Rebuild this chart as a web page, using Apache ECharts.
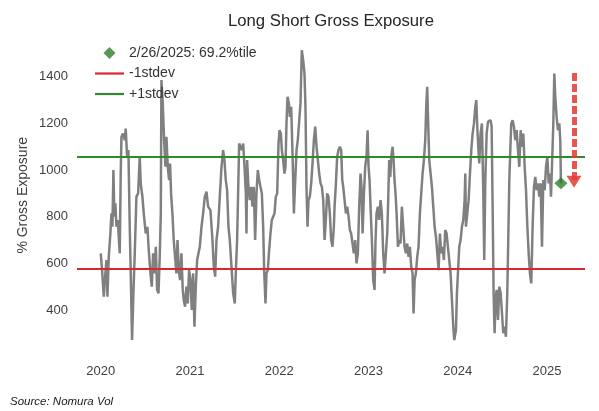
<!DOCTYPE html>
<html><head><meta charset="utf-8">
<script src="https://cdn.jsdelivr.net/npm/echarts@6/dist/echarts.min.js"></script>
<style>html,body{margin:0;padding:0;background:#fff}#c{width:599px;height:411px}</style>
</head><body><div id="c"></div>
<script>
const titleText = 'Long Short Gross Exposure';
const sourceText = 'Source: Nomura Vol';
const yAxisName = '% Gross Exposure';
const yearTicks = [2020, 2021, 2022, 2023, 2024, 2025];
const valueTicks = [400, 600, 800, 1000, 1200, 1400];
const xRange = [2019.734, 2025.426];
const yRange = [209, 1575];

const years = [
2020.000,2020.015,2020.034,2020.052,2020.064,2020.075,2020.090,2020.108,2020.120,2020.131,
2020.142,2020.153,2020.164,2020.176,2020.191,2020.206,2020.213,2020.224,2020.232,2020.250,
2020.269,2020.280,2020.295,2020.310,2020.325,2020.336,2020.351,2020.366,2020.381,2020.400,
2020.419,2020.437,2020.448,2020.467,2020.482,2020.504,2020.523,2020.538,2020.557,2020.572,
2020.587,2020.602,2020.617,2020.632,2020.647,2020.661,2020.673,2020.680,2020.695,2020.710,
2020.725,2020.736,2020.751,2020.766,2020.777,2020.788,2020.803,2020.818,2020.833,2020.848,
2020.860,2020.874,2020.889,2020.904,2020.919,2020.930,2020.945,2020.960,2020.975,2020.990,
2021.005,2021.020,2021.035,2021.050,2021.065,2021.080,2021.095,2021.110,2021.129,2021.147,
2021.166,2021.185,2021.203,
2021.229,2021.252,2021.267,2021.282,2021.297,2021.315,2021.334,2021.353,2021.371,2021.386,
2021.401,2021.416,2021.431,2021.446,2021.465,2021.484,2021.502,2021.513,2021.528,2021.540,
2021.551,2021.566,2021.581,2021.596,2021.611,2021.626,2021.633,2021.640,2021.655,2021.670,
2021.685,2021.700,2021.715,2021.730,2021.745,2021.760,2021.775,2021.790,2021.805,2021.820,
2021.831,2021.846,2021.857,2021.872,2021.887,2021.902,2021.917,2021.932,2021.947,2021.962,
2021.977,2021.992,2022.003,2022.018,2022.029,2022.044,2022.059,2022.070,2022.081,2022.093,
2022.108,2022.119,2022.134,2022.149,2022.164,2022.179,2022.194,2022.208,2022.223,2022.238,
2022.253,2022.268,2022.283,2022.294,2022.306,2022.317,2022.328,2022.343,2022.358,2022.373,
2022.388,2022.403,2022.418,2022.433,2022.448,2022.463,2022.478,2022.493,2022.508,2022.522,
2022.537,2022.552,2022.567,2022.582,2022.597,2022.612,
2022.620,2022.635,2022.649,2022.664,2022.679,2022.694,2022.706,2022.717,2022.732,2022.747,
2022.762,2022.777,2022.791,2022.806,2022.821,2022.836,2022.851,2022.866,2022.881,2022.896,
2022.911,2022.922,2022.934,2022.948,2022.963,2022.978,2022.990,2023.001,2023.012,2023.023,
2023.038,2023.053,2023.068,2023.079,2023.090,2023.105,2023.120,2023.135,2023.150,2023.165,
2023.180,2023.195,2023.210,2023.221,2023.232,2023.244,2023.255,2023.270,2023.281,2023.292,
2023.303,2023.315,2023.330,2023.344,2023.359,2023.374,2023.389,2023.404,2023.419,2023.434,
2023.449,2023.464,2023.479,2023.494,2023.505,2023.517,2023.531,2023.546,2023.561,2023.576,
2023.591,2023.606,2023.621,2023.636,2023.647,2023.658,2023.670,2023.681,2023.696,2023.711,
2023.726,2023.741,2023.756,2023.771,2023.786,2023.800,2023.815,2023.830,2023.845,2023.860,
2023.875,2023.890,2023.905,2023.920,2023.935,2023.950,2023.961,
2023.980,2023.991,2024.002,2024.017,2024.032,2024.047,2024.062,2024.077,2024.085,2024.092,
2024.107,2024.122,2024.137,2024.152,2024.167,2024.182,2024.197,2024.208,2024.219,2024.230,
2024.241,2024.256,2024.271,2024.286,2024.297,2024.309,2024.324,2024.339,2024.354,2024.368,
2024.380,2024.391,2024.402,2024.413,2024.424,2024.436,2024.451,2024.466,2024.481,2024.496,
2024.510,2024.525,2024.540,2024.555,2024.566,2024.578,2024.589,2024.600,2024.615,2024.630,
2024.645,2024.660,2024.675,2024.690,2024.705,2024.720,2024.735,2024.750,2024.765,2024.780,
2024.795,2024.809,2024.824,2024.839,2024.854,2024.869,2024.884,2024.899,2024.914,2024.929,
2024.944,2024.959,2024.974,2024.989,2025.004,2025.019,2025.034,2025.045,2025.056,2025.071,
2025.082,2025.093,2025.108,2025.123,2025.138,2025.149,2025.156
];

const exposure = [
643,571,457,557,614,457,628,728,814,757,
1000,800,857,757,786,685,643,985,1143,1157,
1128,1178,1057,1086,757,557,271,471,643,886,
900,1057,943,886,814,728,757,657,557,500,
643,557,671,486,471,628,814,1386,1286,1128,
1014,1143,1014,957,1028,900,814,700,628,557,
700,571,528,643,486,443,414,500,428,571,
528,400,557,328,500,614,643,671,757,814,
886,907,843,
828,700,585,543,700,757,886,1014,1086,1043,
957,914,757,700,585,471,428,557,700,914,
1114,1100,1086,1114,1014,900,728,1043,928,871,
928,843,928,700,900,1000,957,928,900,757,
571,428,557,571,657,728,786,800,814,886,
900,1114,1171,1157,1086,1043,985,1014,1200,1314,
1286,1228,1271,1071,814,957,1086,1128,1128,1286,
1514,1471,1414,1271,914,757,871,886,943,1028,
1128,1186,1100,1043,985,943,928,871,700,786,
900,886,814,700,671,757,
843,943,1057,1086,1100,1086,957,928,871,814,
843,800,743,728,685,643,700,600,643,843,
985,928,728,886,1014,1057,1171,1014,957,843,
700,528,486,700,814,843,786,871,814,643,
557,643,728,871,1043,971,1057,1100,1043,957,
900,814,671,700,685,843,757,671,643,685,
628,671,585,557,385,528,557,628,671,814,
900,985,1043,1128,1271,1357,1186,1043,985,928,
843,757,714,643,571,728,643,671,614,743,
728,671,614,557,443,328,271,
314,471,557,671,700,757,786,871,985,757,
814,871,985,1086,1157,1200,1271,1300,1186,1100,
1028,1157,1200,914,614,957,1157,1207,1200,1214,
1186,843,471,300,443,486,357,500,471,385,
300,328,285,471,700,957,1086,1200,1214,1186,
1128,1171,1086,1014,1171,1100,1157,1014,914,757,
643,557,514,757,928,971,914,943,886,943,
671,957,914,1014,1057,943,985,886,1014,1200,
1414,1314,1228,1171,1200,1128,943
];

const lastPointLabel = '2/26/2025: 69.2%tile';
const lastPoint = [2025.156, 944];
const minusStdevLabel = '-1stdev';
const minusStdev = 578;
const plusStdevLabel = '+1stdev';
const plusStdev = 1058;
const arrowFrom = [2025.303, 1416];
const arrowTo = [2025.303, 950];

const font = '"Liberation Sans", Arial, sans-serif';
const lineIcon = 'path://M0,0 L29,0 L29,2.2 L0,2.2 Z';
const diamondIcon = 'path://M6,0 L12,6 L6,12 L0,6 Z';
const chart = echarts.init(document.getElementById('c'), null, {renderer: 'canvas'});
chart.setOption({
  backgroundColor: '#ffffff',
  animation: false,
  title: [
    {text: titleText, left: 223, top: 8,
     textStyle: {fontFamily: font, fontSize: 16.7, fontWeight: 'normal', color: '#262626'}},
    {text: sourceText, left: 5, top: 391,
     textStyle: {fontFamily: font, fontSize: 11.5, fontStyle: 'italic', fontWeight: 'normal', color: '#1a1a1a'}}
  ],
  legend: {
    orient: 'vertical', left: 90, top: 41,
    itemWidth: 29, itemHeight: 12, itemGap: 6.5,
    symbolKeepAspect: true,
    selectedMode: false,
    data: [
      {name: lastPointLabel, icon: diamondIcon, itemStyle: {color: '#2a802a'}},
      {name: minusStdevLabel, icon: lineIcon, itemStyle: {color: '#d8282f'}},
      {name: plusStdevLabel, icon: lineIcon, itemStyle: {color: '#2f8a2f'}}
    ],
    textStyle: {fontFamily: font, fontSize: 14, color: '#333333', lineHeight: 14}
  },
  grid: {left: 77, right: 14, top: 36, bottom: 56.5, outerBoundsMode: 'none', containLabel: false},
  xAxis: {
    type: 'value', min: xRange[0], max: xRange[1],
    axisLine: {show: false}, axisTick: {show: false}, splitLine: {show: false},
    axisLabel: {customValues: yearTicks, margin: 10, fontFamily: font, fontSize: 13, color: '#404040',
      formatter: v => String(Math.round(v))}
  },
  yAxis: {
    type: 'value', min: yRange[0], max: yRange[1],
    name: yAxisName, nameLocation: 'middle', nameGap: 47, nameMoveOverlap: false,
    nameTextStyle: {fontFamily: font, fontSize: 14, color: '#404040'},
    axisLine: {show: false}, axisTick: {show: false}, splitLine: {show: false},
    axisLabel: {customValues: valueTicks, margin: 9, fontFamily: font, fontSize: 13, color: '#404040',
      formatter: v => String(Math.round(v))}
  },
  series: [
    {
      name: 'Gross Exposure', type: 'line', z: 2,
      data: years.map((y, i) => [y, exposure[i]]),
      showSymbol: false, symbol: 'none', sampling: null,
      lineStyle: {color: '#808080', width: 2.5},
      emphasis: {disabled: true}
    },
    {
      name: minusStdevLabel, type: 'line', data: [], z: 3, symbol: 'none',
      color: '#d8282f', lineStyle: {color: '#d8282f', width: 2},
      markLine: {silent: true, symbol: 'none', label: {show: false},
        lineStyle: {color: '#d8282f', width: 2, type: 'solid'},
        data: [{yAxis: minusStdev}]}
    },
    {
      name: plusStdevLabel, type: 'line', data: [], z: 3, symbol: 'none',
      color: '#2f8a2f', lineStyle: {color: '#2f8a2f', width: 2},
      markLine: {silent: true, symbol: 'none', label: {show: false},
        lineStyle: {color: '#2f8a2f', width: 2, type: 'solid'},
        data: [{yAxis: plusStdev}]}
    },
    {
      name: lastPointLabel, type: 'scatter', z: 5,
      data: [lastPoint], symbol: 'diamond', symbolSize: [13, 12],
      itemStyle: {color: '#2a802a'}
    },
    {
      name: 'arrow', type: 'line', data: [], z: 6, symbol: 'none',
      markLine: {silent: true, symbol: ['none', 'triangle'], symbolSize: [15, 12],
        label: {show: false},
        lineStyle: {color: 'rgba(226,62,56,0.88)', width: 5, type: [8, 3]},
        data: [[{coord: arrowFrom}, {coord: arrowTo}]]}
    }
  ]
});
</script>
</body></html>
